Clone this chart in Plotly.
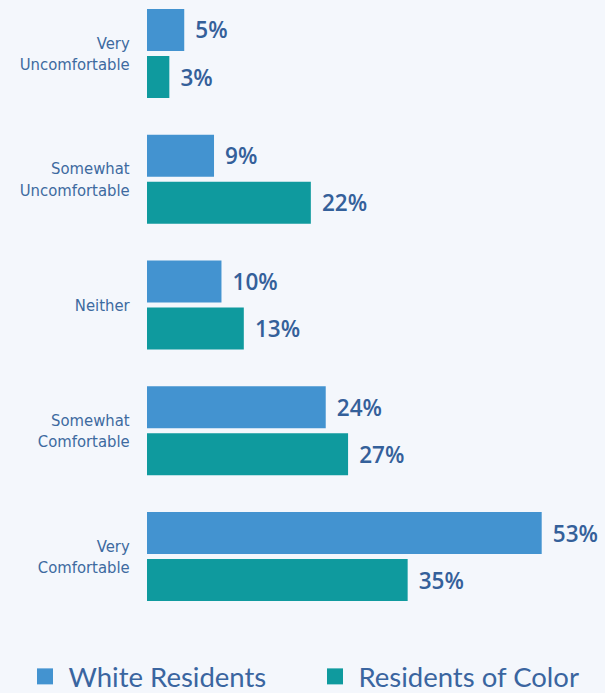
import plotly.graph_objects as go

categories = ["Very<br>Uncomfortable", "Somewhat<br>Uncomfortable", "Neither",
              "Somewhat<br>Comfortable", "Very<br>Comfortable"]
white_residents = [5, 9, 10, 24, 53]
residents_of_color = [3, 22, 13, 27, 35]
series_names = ["White Residents", "Residents of Color"]
colors = ["#4393d0", "#0f9a9e"]
bg = "#f4f7fc"
text_color = "#34609a"

fig = go.Figure()
for name, vals, col in zip(series_names, [white_residents, residents_of_color], colors):
    fig.add_trace(go.Bar(
        y=categories, x=vals, orientation="h", name=name,
        marker=dict(color=col, line=dict(width=0)),
        text=[f"\u00a0\u200a{v}%" for v in vals], textposition="outside",
        textfont=dict(family="Open Sans", size=22.5, color=text_color, weight=600),
        cliponaxis=False, showlegend=False, hoverinfo="skip",
    ))
    fig.add_trace(go.Scatter(
        x=[None], y=[None], mode="markers", name="\u2009" + name,
        marker=dict(symbol="square", size=16, color=col),
        showlegend=True, hoverinfo="skip",
    ))

fig.update_layout(
    width=605, height=703,
    paper_bgcolor=bg, plot_bgcolor=bg,
    margin=dict(l=147, r=0, t=0, b=73),
    barmode="group", bargap=0.252, bargroupgap=0.106,
    xaxis=dict(range=[0, 61.5], visible=False, fixedrange=True),
    yaxis=dict(type="category", categoryorder="array", categoryarray=categories,
               range=[4.584, -0.4254], showgrid=False, zeroline=False, showline=False,
               ticks="outside", ticklen=13, tickcolor=bg, fixedrange=True,
               tickfont=dict(family="DejaVu Sans Condensed, Liberation Sans Narrow, Roboto",
                             size=16.5, color="#3d6aa0")),
    legend=dict(orientation="h", x=-0.2447, y=-0.1127, xanchor="left", yanchor="bottom",
                font=dict(family="Lato", size=27.5, color="#3a65a0"),
                itemwidth=30, entrywidth=245, entrywidthmode="pixels",
                tracegroupgap=0, bgcolor="rgba(0,0,0,0)"),
    showlegend=True,
)
fig.write_html(
    "out.html", config={"displayModeBar": False},
    post_script=("document.documentElement.style.overflow='hidden';"
                 "document.body.style.overflow='hidden';"
                 "document.body.style.margin='0';"
                 "document.body.style.background='%s';" % bg))
